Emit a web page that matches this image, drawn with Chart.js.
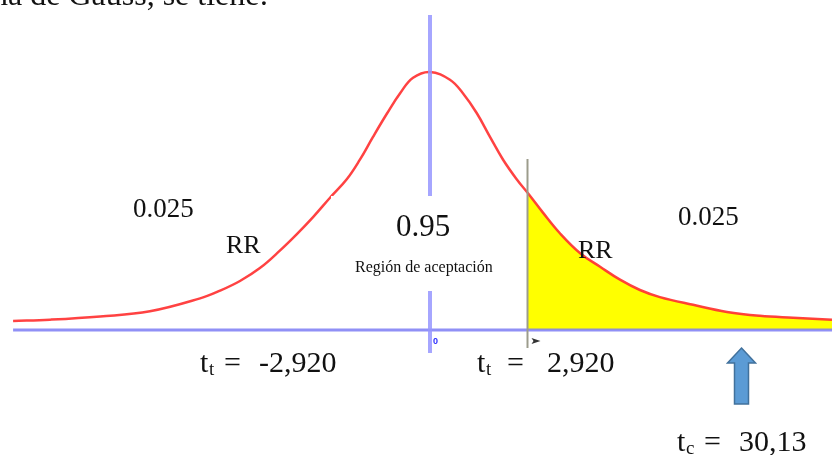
<!DOCTYPE html>
<html>
<head>
<meta charset="utf-8">
<script src="https://cdn.jsdelivr.net/npm/chart.js"></script>
<style>
  html, body { margin: 0; padding: 0; background: #fff; }
  canvas { display: block; }
</style>
</head>
<body>
<canvas id="chart" width="832" height="455"></canvas>
<script>
// curve: t value vs density
const tValues = [-12.55, -11.44, -9.93, -8.43, -6.92, -6.32, -5.72, -5.12, -4.52, -4.0, -3.52, -3.01, -2.5, -2.11, -1.72, -1.29, -0.9, -0.51, 0,
  0.6, 0.99, 1.41, 1.81, 2.2, 2.62, 2.95, 3.4, 3.91, 4.52, 5.12, 5.72, 6.32, 6.92, 7.92, 8.94, 9.93, 10.93, 12.1];
const density = [0.014, 0.016, 0.021, 0.029, 0.049, 0.061, 0.076, 0.096, 0.123, 0.149, 0.175, 0.205, 0.234, 0.264, 0.299, 0.336, 0.367, 0.391, 0.4,
  0.388, 0.367, 0.336, 0.299, 0.264, 0.233, 0.212, 0.182, 0.15, 0.119, 0.098, 0.078, 0.062, 0.051, 0.039, 0.028, 0.022, 0.019, 0.016];

const tCritical = 2.92;
const densityAtCritical = 0.214;
const arrowT = 9.36; // the arrow marking t_c

const curvePoints = tValues.map((t, i) => ({ x: t, y: density[i] }));
const tailPoints = [{ x: tCritical, y: densityAtCritical }].concat(curvePoints.filter(p => p.x > tCritical + 0.1));

const overlay = {
  id: "overlay",
  afterDatasetsDraw(chart) {
    const { ctx, scales: { x, y } } = chart;
    const y0 = y.getPixelForValue(0);
    ctx.save();

    // horizontal axis
    ctx.strokeStyle = "rgba(125,125,245,0.85)";
    ctx.lineWidth = 3;
    ctx.beginPath();
    ctx.moveTo(x.getPixelForValue(tValues[0]), y0);
    ctx.lineTo(chart.width, y0);
    ctx.stroke();

    // centre line at t = 0
    const xc = Math.round(x.getPixelForValue(0));
    ctx.strokeStyle = "rgba(150,150,255,0.85)";
    ctx.lineWidth = 4;
    ctx.beginPath();
    ctx.moveTo(xc, 15);
    ctx.lineTo(xc, 353);
    ctx.stroke();

    // critical value line
    const xk = Math.round(x.getPixelForValue(tCritical)) + 0.5;
    ctx.strokeStyle = "#9c9c8c";
    ctx.lineWidth = 2;
    ctx.beginPath();
    ctx.moveTo(xk, 159);
    ctx.lineTo(xk, 348);
    ctx.stroke();

    // small tick marker next to the critical line
    ctx.fillStyle = "#333";
    ctx.beginPath();
    ctx.moveTo(xk + 4, 338);
    ctx.lineTo(xk + 13, 341);
    ctx.lineTo(xk + 4, 344);
    ctx.lineTo(xk + 6, 341);
    ctx.closePath();
    ctx.fill();

    // white label box in the middle
    ctx.fillStyle = "#fff";
    ctx.fillRect(331, 196, 185, 95);

    // blue "0"
    ctx.fillStyle = "#2b2bff";
    ctx.font = "bold 9px 'Liberation Sans'";
    ctx.fillText("0", xc + 3, 344);

    // texts
    ctx.fillStyle = "#111";
    const txt = (s, px, py, size) => {
      ctx.font = size + "px 'Liberation Serif'";
      ctx.fillText(s, px, py);
    };
    txt("na de Gauss, se tiene:", -8, 5, 32);
    txt("0.025", 133, 217, 27);
    txt("RR", 226, 253, 26);
    txt("0.95", 396, 236, 31);
    txt("Región de aceptación", 355, 272, 16);
    txt("RR", 578, 258, 26);
    txt("0.025", 678, 225, 27);

    txt("t", 200, 372, 30);
    txt("t", 209, 375, 19);
    txt("=", 224, 372, 30);
    txt("-2,920", 259, 372, 30);

    txt("t", 477, 372, 30);
    txt("t", 486, 375, 19);
    txt("=", 507, 372, 30);
    txt("2,920", 547, 372, 30);

    txt("t", 677, 451, 30);
    txt("c", 686, 454, 19);
    txt("=", 704, 451, 30);
    txt("30,13", 739, 451, 30);

    // block arrow pointing at t_c
    const ax = Math.round(x.getPixelForValue(arrowT)) + 0.5;
    ctx.fillStyle = "#5b9bd5";
    ctx.strokeStyle = "#41719c";
    ctx.lineWidth = 1.5;
    ctx.beginPath();
    ctx.moveTo(ax, 348);
    ctx.lineTo(ax + 14, 363);
    ctx.lineTo(ax + 7, 363);
    ctx.lineTo(ax + 7, 404);
    ctx.lineTo(ax - 7, 404);
    ctx.lineTo(ax - 7, 363);
    ctx.lineTo(ax - 14, 363);
    ctx.closePath();
    ctx.fill();
    ctx.stroke();

    ctx.restore();
  }
};

new Chart(document.getElementById("chart"), {
  type: "line",
  data: {
    datasets: [
      {
        data: curvePoints,
        borderColor: "rgba(255,45,45,0.9)",
        borderWidth: 2.5,
        pointRadius: 0,
        tension: 0.4,
        fill: false,
      },
      {
        data: tailPoints,
        borderWidth: 0,
        borderColor: "rgba(0,0,0,0)",
        backgroundColor: "#ffff00",
        pointRadius: 0,
        tension: 0.4,
        fill: "origin",
      },
    ],
  },
  options: {
    responsive: false,
    animation: false,
    devicePixelRatio: 1,
    layout: { padding: 0 },
    plugins: {
      legend: { display: false },
      tooltip: { enabled: false },
    },
    scales: {
      x: { type: "linear", display: false, min: -12.944, max: 12.101 },
      y: { display: false, min: -0.1938, max: 0.5116 },
    },
  },
  plugins: [overlay],
});
</script>
</body>
</html>
